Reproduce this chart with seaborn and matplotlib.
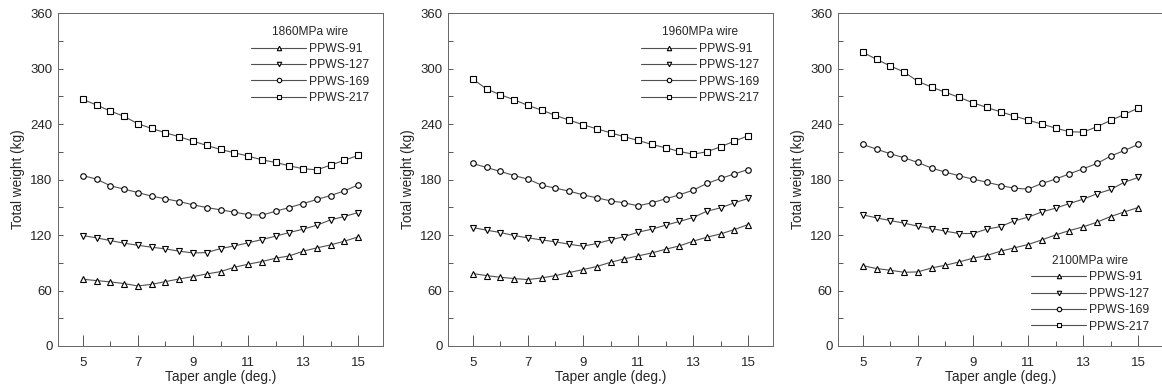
import numpy as np
import pandas as pd
import matplotlib
matplotlib.use("Agg")
import matplotlib.pyplot as plt
import seaborn as sns

angles = [5, 5.5, 6, 6.5, 7, 7.5, 8, 8.5, 9, 9.5, 10, 10.5, 11, 11.5, 12, 12.5, 13, 13.5, 14, 14.5, 15]
series_names = ["PPWS-91", "PPWS-127", "PPWS-169", "PPWS-217"]
panel_titles = ["1860MPa wire", "1960MPa wire", "2100MPa wire"]

# 1860MPa wire
w1860_91 = [72.2, 70.7, 69.3, 67.5, 64.9, 66.7, 69.6, 72.5, 75.0, 77.9, 80.4, 85.1, 88.4, 91.3, 94.9, 97.4, 102.5, 106.1, 109.3, 113.3, 118.0]
w1860_127 = [119.4, 116.9, 114.0, 111.1, 108.9, 106.8, 105.0, 102.5, 100.6, 101.0, 105.3, 108.2, 111.5, 115.1, 118.7, 122.7, 126.3, 130.6, 136.4, 140.0, 144.3]
w1860_169 = [184.3, 180.4, 173.2, 169.6, 165.9, 162.0, 159.1, 156.2, 152.6, 149.7, 147.2, 144.7, 142.1, 141.4, 145.7, 149.7, 154.0, 158.4, 162.7, 167.7, 174.2]
w1860_217 = [266.6, 260.5, 254.0, 248.2, 240.3, 235.2, 230.5, 226.2, 221.5, 216.8, 212.5, 208.9, 205.3, 201.3, 198.4, 194.8, 191.6, 190.5, 195.5, 200.9, 206.0]

# 1960MPa wire
w1960_91 = [78.3, 76.1, 74.3, 72.9, 71.8, 73.6, 76.1, 79.4, 82.6, 85.9, 90.5, 94.2, 97.4, 100.6, 104.6, 108.2, 113.3, 117.6, 121.2, 125.9, 131.3]
w1960_127 = [128.1, 125.2, 122.7, 119.4, 116.9, 114.7, 112.6, 110.0, 107.9, 110.8, 114.7, 118.3, 123.0, 126.3, 130.6, 134.6, 138.9, 145.7, 149.4, 154.8, 159.5]
w1960_169 = [197.3, 193.0, 188.7, 184.3, 180.4, 173.9, 170.6, 167.4, 163.4, 160.2, 156.9, 154.8, 151.5, 154.8, 159.1, 163.4, 168.5, 175.7, 181.1, 186.1, 190.8]
w1960_217 = [288.6, 277.8, 271.6, 266.2, 260.1, 255.0, 249.3, 244.2, 239.2, 234.8, 230.5, 226.2, 222.2, 217.9, 214.3, 210.3, 207.4, 210.0, 215.4, 221.5, 227.3]

# 2100MPa wire
w2100_91 = [86.9, 83.7, 81.9, 79.7, 80.1, 84.4, 87.3, 90.9, 94.9, 97.8, 102.5, 106.1, 109.7, 114.7, 120.1, 124.8, 128.8, 133.8, 140.0, 145.0, 149.7]
w2100_127 = [141.8, 138.5, 135.6, 132.8, 129.5, 127.0, 124.1, 121.6, 121.6, 126.3, 129.1, 135.3, 139.2, 145.0, 149.0, 154.0, 158.7, 164.5, 169.2, 177.1, 182.2]
w2100_169 = [217.9, 212.8, 207.8, 203.5, 198.4, 192.3, 188.0, 184.0, 180.4, 177.1, 173.5, 170.6, 169.6, 175.7, 180.4, 186.1, 191.6, 197.3, 205.3, 211.4, 217.9]
w2100_217 = [317.5, 309.9, 302.7, 296.2, 286.1, 279.9, 274.2, 268.8, 263.0, 257.9, 253.2, 248.6, 244.2, 239.9, 235.6, 231.6, 231.2, 237.0, 243.9, 250.4, 257.2]

panels = [
    [w1860_91, w1860_127, w1860_169, w1860_217],
    [w1960_91, w1960_127, w1960_169, w1960_217],
    [w2100_91, w2100_127, w2100_169, w2100_217],
]
markers = ["^", "v", "o", "s"]
legend_locs = ["upper right", "upper right", "lower right"]

sns.set_style("ticks")
plt.rcParams["font.family"] = ["Liberation Sans", "DejaVu Sans"]
plt.rcParams["font.size"] = 8

fig = plt.figure(figsize=(11.62, 3.88), dpi=100)
lefts = [58, 448, 838]
for i, (vals, title, loc) in enumerate(zip(panels, panel_titles, legend_locs)):
    ax = fig.add_axes([lefts[i] / 1162, 42 / 388, 325 / 1162, 333 / 388])
    for name, v, m in zip(series_names, vals, markers):
        sns.lineplot(x=angles, y=v, ax=ax, marker=m, color="#505050", lw=0.8,
                     markersize=4, mfc="white", mec="black", mew=0.8, label=name)
    ax.set_xlim(4.1, 15.9)
    ax.set_ylim(0, 360)
    ax.set_xticks([5, 7, 9, 11, 13, 15])
    ax.set_xticks([6, 8, 10, 12, 14], minor=True)
    ax.set_yticks(np.arange(0, 361, 60))
    ax.set_yticks(np.arange(30, 360, 60), minor=True)
    ax.tick_params(which="both", direction="in", width=0.7, color="#555555", labelsize=9.5)
    ax.tick_params(axis="x", which="major", length=8, pad=8)
    ax.tick_params(axis="x", which="minor", length=3.6)
    ax.tick_params(axis="y", which="both", length=3.8, pad=4)
    ax.set_xlabel("Taper angle (deg.)", fontsize=9.8, labelpad=0.5)
    ax.set_ylabel("Total weight (kg)", fontsize=9.8, labelpad=4)
    for sp in ax.spines.values():
        sp.set_linewidth(0.7)
        sp.set_color("#666666")
    leg = ax.legend(title=title, loc=loc, frameon=False, fontsize=8.7,
                    title_fontsize=8.6, handlelength=4.6, labelspacing=0.37,
                    handletextpad=0.25, borderaxespad=0.7, markerscale=0.8)
    leg._legend_box.align = "center"

fig.savefig("out.png", dpi=100)
